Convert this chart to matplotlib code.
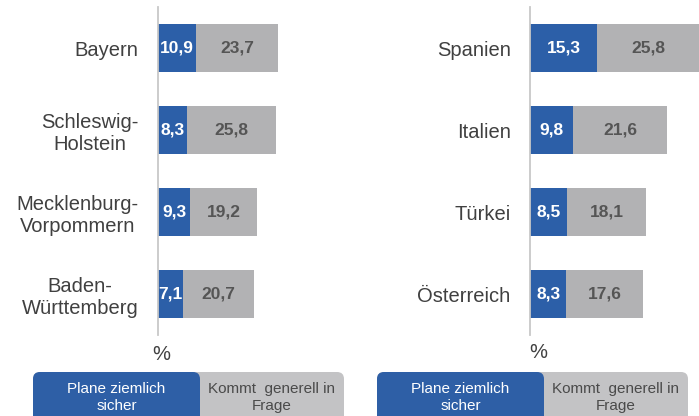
import matplotlib.pyplot as plt
from matplotlib.patches import FancyBboxPatch

plt.rcParams["font.family"] = ["Liberation Sans", "DejaVu Sans"]

# data
regions_de = ["Bayern", "Schleswig-\nHolstein", "Mecklenburg-\nVorpommern", "Baden-\nWürttemberg"]
sure_de = [10.9, 8.3, 9.3, 7.1]
maybe_de = [23.7, 25.8, 19.2, 20.7]

countries = ["Spanien", "Italien", "Türkei", "Österreich"]
sure_ab = [15.3, 9.8, 8.5, 8.3]
maybe_ab = [25.8, 21.6, 18.1, 17.6]

series_names = ["Plane ziemlich\nsicher", "Kommt  generell in\nFrage"]

BLUE = "#2c5fa8"
GRAY = "#b2b2b4"
LEG_BLUE = "#2e5fa6"
LEG_GRAY = "#c3c3c5"
TXT = "#404040"

W, H = 699, 416
fig = plt.figure(figsize=(W / 100, H / 100), dpi=100)


def px_axes(x0, y0, x1, y1):
    return fig.add_axes([x0 / W, 1 - y1 / H, (x1 - x0) / W, (y1 - y0) / H])


def draw_panel(ax, cats, sure, maybe, xmax):
    y = list(range(len(cats)))
    b1 = ax.barh(y, sure, height=0.58, color=BLUE)
    b2 = ax.barh(y, maybe, left=sure, height=0.58, color=GRAY)
    ax.bar_label(b1, labels=[f"{v:.1f}".replace(".", ",") for v in sure],
                 label_type="center", color="white", fontsize=12.5, fontweight="bold")
    ax.bar_label(b2, labels=[f"{v:.1f}".replace(".", ",") for v in maybe],
                 label_type="center", color="#555555", fontsize=12.5, fontweight="bold")
    ax.set_xlim(0, xmax)
    ax.set_ylim(3.5, -0.5)
    ax.set_yticks(y)
    ax.set_yticklabels(cats, fontsize=14.5, color=TXT)
    for t in ax.get_yticklabels():
        t.set_multialignment("center")
    ax.tick_params(axis="y", length=0, pad=14)
    ax.set_xticks([])
    for s in ["top", "right", "bottom"]:
        ax.spines[s].set_visible(False)
    ax.spines["left"].set_color("#c8c8c8")
    ax.spines["left"].set_linewidth(1.3)
    ax.patch.set_alpha(0)


ax1 = px_axes(158, 7, 343, 335)
draw_panel(ax1, regions_de, sure_de, maybe_de, 185 / 3.47)

ax2 = px_axes(530, 7, 699, 335)
draw_panel(ax2, countries, sure_ab, maybe_ab, 169 / 4.37)

# overlay in pixel units for the "%" notes and the legend boxes
ov = fig.add_axes([0, 0, 1, 1])
ov.set_xlim(0, W)
ov.set_ylim(H, 0)
ov.axis("off")
ov.patch.set_alpha(0)

ov.text(161.5, 354, "%", ha="center", va="center", fontsize=14.5, color=TXT)
ov.text(538.5, 353, "%", ha="center", va="center", fontsize=14.5, color=TXT)

for x0, xm, x1 in [(33, 200, 344), (377, 544, 688)]:
    ov.add_patch(FancyBboxPatch((x0, 372), x1 - x0, 60,
                                boxstyle="round,pad=0,rounding_size=7",
                                fc=LEG_GRAY, ec="none"))
    ov.add_patch(FancyBboxPatch((x0, 372), xm - x0, 60,
                                boxstyle="round,pad=0,rounding_size=7",
                                fc=LEG_BLUE, ec="none"))
    ov.text((x0 + xm) / 2, 397.5, series_names[0], ha="center", va="center",
            fontsize=11, color="white", linespacing=1.25)
    ov.text((xm + x1) / 2, 397.5, series_names[1], ha="center", va="center",
            fontsize=11, color="#4a4a4a", linespacing=1.25)

fig.savefig("out.png", dpi=100)
plt.close(fig)
